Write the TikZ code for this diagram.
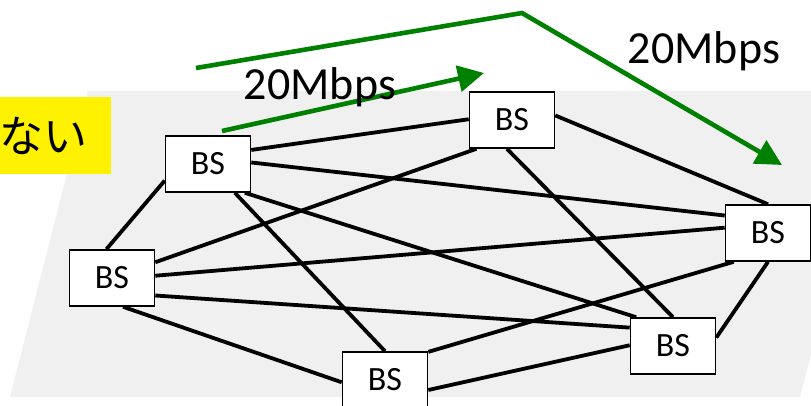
\documentclass[tikz,border=0pt]{standalone}
\usepackage{fontspec}
\setmainfont{Carlito}
\newfontfamily\jpfont{Noto Sans CJK JP}
\usetikzlibrary{arrows.meta}
\definecolor{plane}{HTML}{F0F0F0}
\definecolor{flowgreen}{HTML}{008000}
\begin{document}
\begin{tikzpicture}[x=1pt, y=-1pt,
  bs/.style={draw, line width=1.6pt, fill=white, minimum width=85pt, minimum height=56pt, inner sep=0pt, font=\fontsize{34}{34}\selectfont},
  link/.style={line width=3.8pt},
  flow/.style={flowgreen, line width=4.6pt, -{Triangle[length=26pt,width=26pt]}},
  rate/.style={anchor=base, font=\fontsize{46}{46}\selectfont}]
\useasboundingbox (0,0) rectangle (811,405);
\fill[plane] (88,91) -- (880,91) -- (800,397) -- (10,397) -- cycle;
\node[fill=yellow, anchor=east, minimum height=77pt, inner xsep=23pt, inner ysep=0pt, font=\jpfont\fontsize{44}{44}\selectfont] (note) at (111,135.5) {ない};
\node[bs] (bsNW) at (208,164) {BS};
\node[bs] (bsN) at (512,120) {BS};
\node[bs] (bsE) at (768,233) {BS};
\node[bs] (bsW) at (112,278) {BS};
\node[bs] (bsS) at (385,380) {BS};
\node[bs] (bsSE) at (673,346) {BS};
\draw[link] (bsNW.18) -- (bsN.179);
\draw[link] (bsNW.2) -- (bsE.158);
\draw[link] (bsNW.201) -- (bsW.101);
\draw[link] (bsNW.313) -- (bsS.90);
\draw[link] (bsNW.322) -- (bsSE.142);
\draw[link] (bsN.6) -- (bsE.90);
\draw[link] (bsN.219) -- (bsW.20);
\draw[link] (bsN.260) -- (bsSE.90);
\draw[link] (bsE.173) -- (bsW.3);
\draw[link] (bsE.220) -- (bsS.33);
\draw[link] (bsE.270) -- (bsSE.11);
\draw[link] (bsW.291) -- (bsS.183);
\draw[link] (bsW.338) -- (bsSE.157);
\draw[link] (bsS.347) -- (bsSE.179);
\coordinate (f1s) at (222,131);
\coordinate (f1e) at (484,73);
\coordinate (f2s) at (196,68);
\coordinate (f2m) at (522,13);
\coordinate (f2e) at (782,165);
\draw[flow] (f1s) -- (f1e);
\draw[flow] (f2s) -- (f2m) -- (f2e);
\node[rate] (rate1) at (320,99) {20Mbps};
\node[rate] (rate2) at (704,63) {20Mbps};
\end{tikzpicture}
\end{document}
